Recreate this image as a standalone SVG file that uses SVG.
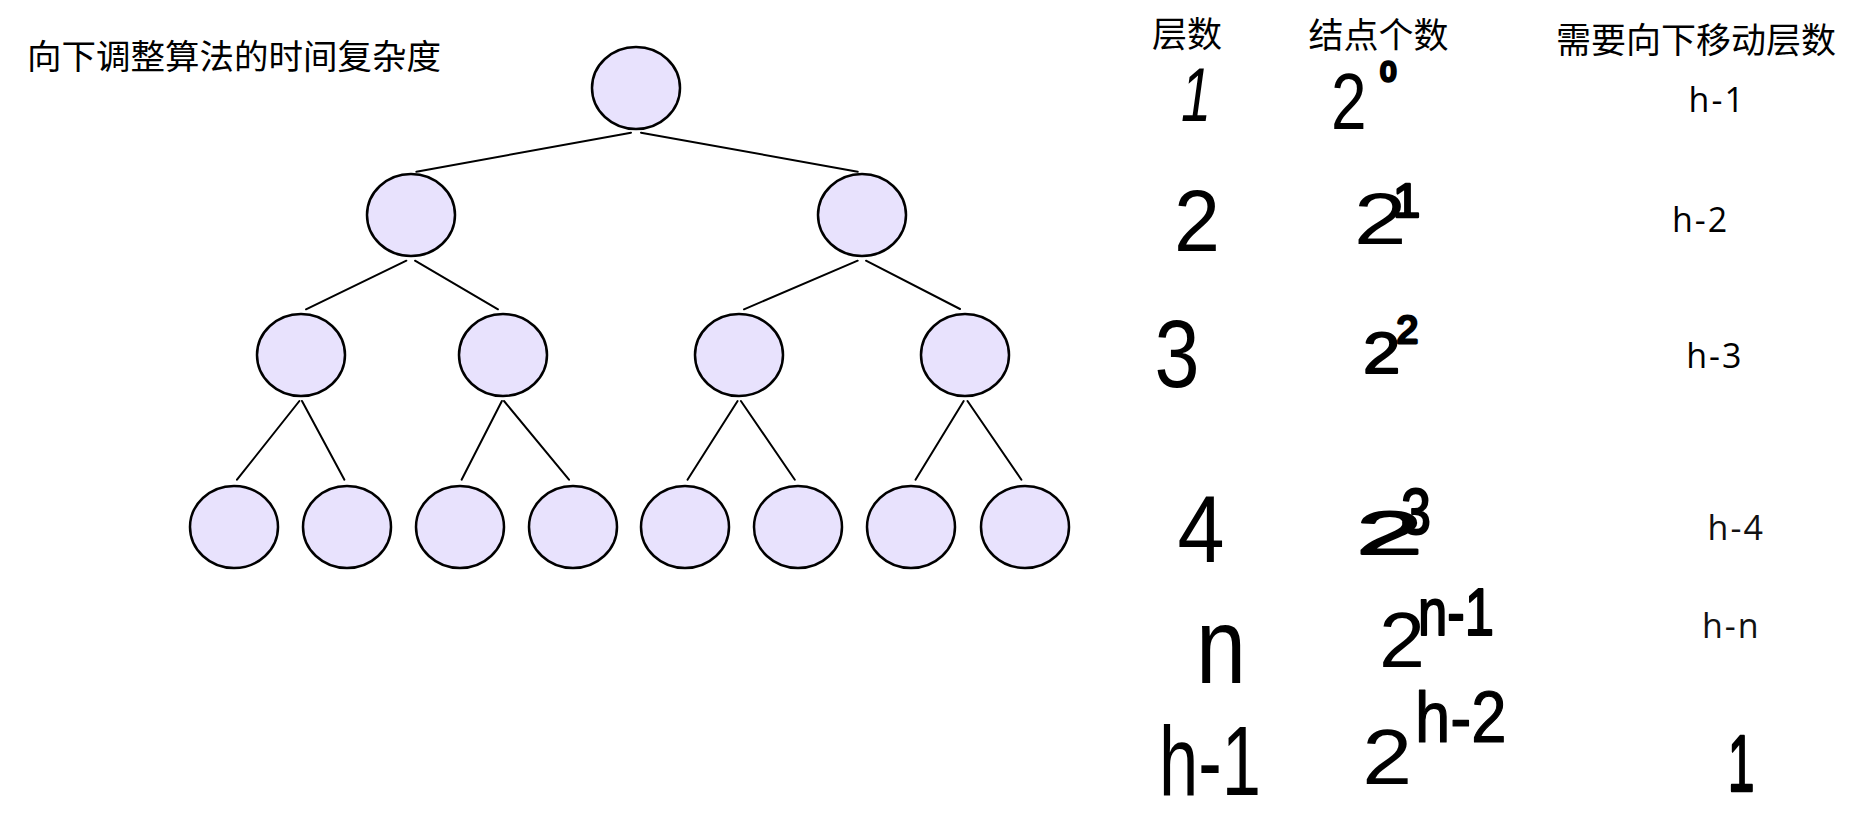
<svg xmlns="http://www.w3.org/2000/svg" width="1852" height="814" viewBox="0 0 1852 814">
<style>
.node ellipse{fill:#e8e2fd;stroke:#000;stroke-width:2.5}
.edges line{stroke:#000;stroke-width:2;stroke-linecap:round}
.cjk{font-family:"Noto Sans CJK SC","Noto Sans",sans-serif;font-size:35px;fill:#000}
.lbl{font-family:"Open Sans","Noto Sans",sans-serif;font-size:34px;fill:#000;letter-spacing:2px}
.hw{font-family:"Liberation Sans",Arial,sans-serif;fill:#000;stroke:#000;stroke-width:0;stroke-linejoin:round;stroke-linecap:round}
</style>
<rect width="1852" height="814" fill="#fff"/>
<text id="title" class="cjk" x="27" y="69" style="font-size:34.5px">向下调整算法的时间复杂度</text>
<g id="edges" class="edges">
<line x1="631" y1="132.7" x2="416.4" y2="171.7"/>
<line x1="641" y1="132.7" x2="857.7" y2="171.7"/>
<line x1="406.4" y1="260.7" x2="306" y2="309.3"/>
<line x1="415" y1="260.7" x2="498" y2="309.3"/>
<line x1="857.7" y1="260.7" x2="744" y2="309.3"/>
<line x1="866" y1="260.7" x2="960" y2="309"/>
<line x1="299.4" y1="401" x2="237" y2="479.7"/>
<line x1="302" y1="401" x2="344.4" y2="479.7"/>
<line x1="501.9" y1="401" x2="461.6" y2="479.7"/>
<line x1="504" y1="401" x2="569" y2="479.7"/>
<line x1="737.6" y1="401" x2="687.5" y2="479.7"/>
<line x1="740.9" y1="401" x2="794.8" y2="479.7"/>
<line x1="963.7" y1="401" x2="915.5" y2="479.7"/>
<line x1="967.5" y1="401" x2="1021.4" y2="479.7"/>
</g>
<g id="n1" class="node"><ellipse cx="636" cy="88" rx="44" ry="41"/></g>
<g id="n2" class="node"><ellipse cx="411" cy="215" rx="44" ry="41"/></g>
<g id="n3" class="node"><ellipse cx="862" cy="215" rx="44" ry="41"/></g>
<g id="n4" class="node"><ellipse cx="301" cy="355" rx="44" ry="41"/></g>
<g id="n5" class="node"><ellipse cx="503" cy="355" rx="44" ry="41"/></g>
<g id="n6" class="node"><ellipse cx="739" cy="355" rx="44" ry="41"/></g>
<g id="n7" class="node"><ellipse cx="965" cy="355" rx="44" ry="41"/></g>
<g id="n8" class="node"><ellipse cx="234" cy="527" rx="44" ry="41"/></g>
<g id="n9" class="node"><ellipse cx="347" cy="527" rx="44" ry="41"/></g>
<g id="n10" class="node"><ellipse cx="460" cy="527" rx="44" ry="41"/></g>
<g id="n11" class="node"><ellipse cx="573" cy="527" rx="44" ry="41"/></g>
<g id="n12" class="node"><ellipse cx="685" cy="527" rx="44" ry="41"/></g>
<g id="n13" class="node"><ellipse cx="798" cy="527" rx="44" ry="41"/></g>
<g id="n14" class="node"><ellipse cx="911" cy="527" rx="44" ry="41"/></g>
<g id="n15" class="node"><ellipse cx="1025" cy="527" rx="44" ry="41"/></g>
<g id="headers">
<text class="cjk" x="1152" y="46.8">层数</text>
<text class="cjk" x="1308.5" y="48.2">结点个数</text>
<text class="cjk" x="1556" y="52.5">需要向下移动层数</text>
</g>
<g id="col-level">
<text class="hw" x="1181" y="121" font-size="76" font-style="italic" textLength="30" lengthAdjust="spacingAndGlyphs">1</text>
<text class="hw" x="1174" y="251" font-size="88" textLength="46" lengthAdjust="spacingAndGlyphs">2</text>
<text class="hw" x="1154.5" y="387" font-size="96" textLength="45" lengthAdjust="spacingAndGlyphs">3</text>
<text class="hw" x="1177.4" y="562" font-size="94" textLength="47" lengthAdjust="spacingAndGlyphs">4</text>
<text class="hw" x="1196" y="683" font-size="108" textLength="50" lengthAdjust="spacingAndGlyphs">n</text>
<text class="hw" x="1159" y="795" font-size="98" textLength="102" lengthAdjust="spacingAndGlyphs">h-1</text>
</g>
<g id="col-count">
<text class="hw"><tspan x="1331" y="129" font-size="80" textLength="35.6" lengthAdjust="spacingAndGlyphs">2</tspan><tspan x="1380.5" y="81" font-size="28" style="stroke-width:3.5">0</tspan></text>
<text class="hw"><tspan x="1353.8" y="244" font-size="73" textLength="53" lengthAdjust="spacingAndGlyphs">2</tspan><tspan x="1393" y="216.7" font-size="49" style="stroke-width:2.5">1</tspan></text>
<text class="hw"><tspan x="1363" y="373" font-size="57" textLength="37.4" lengthAdjust="spacingAndGlyphs" style="stroke-width:1.8">2</tspan><tspan x="1396.5" y="343" font-size="39" style="stroke-width:3">2</tspan></text>
<text class="hw"><tspan x="1356.4" y="554" font-size="61" textLength="66" lengthAdjust="spacingAndGlyphs" style="stroke-width:2">2</tspan><tspan x="1401" y="534" font-size="65" textLength="30" lengthAdjust="spacingAndGlyphs" style="stroke-width:2">3</tspan></text>
<text class="hw"><tspan x="1379" y="667" font-size="78" textLength="46" lengthAdjust="spacingAndGlyphs">2</tspan><tspan x="1418" y="635" font-size="66" textLength="76" lengthAdjust="spacingAndGlyphs" style="stroke-width:2">n-1</tspan></text>
<text class="hw"><tspan x="1362.3" y="784" font-size="78" textLength="49.9" lengthAdjust="spacingAndGlyphs">2</tspan><tspan x="1414.9" y="742" font-size="72" textLength="91.6" lengthAdjust="spacingAndGlyphs" style="stroke-width:1.2">h-2</tspan></text>
</g>
<g id="col-move">
<text class="lbl" x="1688.6" y="111.7">h-1</text>
<text class="lbl" x="1672" y="231.7">h-2</text>
<text class="lbl" x="1686.2" y="368.3">h-3</text>
<text class="lbl" x="1707.6" y="540" style="fill:#111">h-4</text>
<text class="lbl" x="1702" y="638.3" style="fill:#111">h-n</text>
<text class="hw" x="1728.1" y="791" font-size="79" textLength="26.4" lengthAdjust="spacingAndGlyphs" style="stroke-width:2.5">1</text>
</g>
</svg>
